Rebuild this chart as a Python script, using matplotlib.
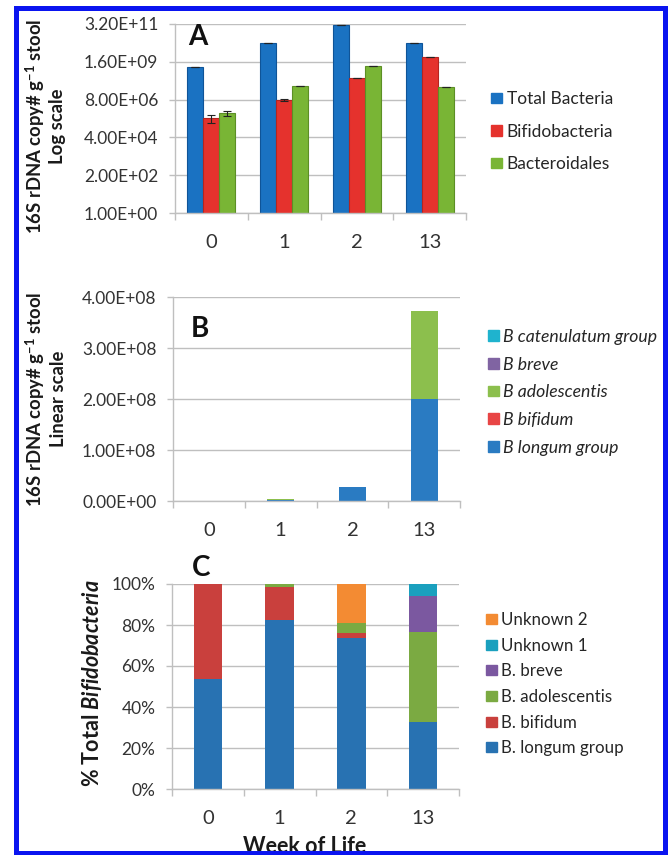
import matplotlib
matplotlib.use("Agg")
import matplotlib.pyplot as plt
from matplotlib.patches import Patch, Rectangle
from matplotlib.ticker import FixedLocator, PercentFormatter, FuncFormatter
import numpy as np

plt.rcParams['font.family'] = ['Lato', 'DejaVu Sans']
plt.rcParams['mathtext.fontset'] = 'custom'
plt.rcParams['mathtext.rm'] = 'Lato'
plt.rcParams['mathtext.bf'] = 'Lato:bold'
plt.rcParams['mathtext.it'] = 'Lato:italic'
plt.rcParams['mathtext.bfit'] = 'Lato:bold:italic'

weeks = ["0", "1", "2", "13"]

# Panel A (log scale, copies per g stool)
total_bacteria = [7.6e8, 2.2e10, 2.8e11, 2.2e10]
total_err = [2e7, 8e8, 5e9, 7e8]
bifidobacteria = [6.0e5, 7.6e6, 1.6e8, 3.2e9]
bifido_err = [3e5, 1e6, 5e6, 8e7]
bacteroidales = [1.2e6, 5.4e7, 9.0e8, 4.7e7]
bactero_err = [4e5, 1e6, 2e7, 1e6]
a_names = ["Total Bacteria", "Bifidobacteria", "Bacteroidales"]
a_ticks = [1, 200, 4e4, 8e6, 1.6e9, 3.2e11]

# Panel B (linear scale, stacked)
b_longum = [0.0, 2.4e6, 2.7e7, 2.0e8]
b_bifidum = [0.0, 0.5e6, 0.4e6, 0.0]
b_adolescentis = [0.0, 0.1e6, 0.6e6, 1.73e8]
b_breve = [0.0, 0.0, 0.0, 0.0]
b_catenulatum = [0.0, 0.3e6, 0.0, 0.0]
b_names = ["B longum group", "B bifidum", "B adolescentis", "B breve", "B catenulatum group"]
b_ticks = [0, 1e8, 2e8, 3e8, 4e8]

# Panel C (% of total Bifidobacteria)
c_longum = [53.5, 82.5, 73.5, 32.7]
c_bifidum = [46.5, 16.0, 2.5, 0.0]
c_adolescentis = [0.0, 1.5, 5.0, 44.0]
c_breve = [0.0, 0.0, 0.0, 17.4]
c_unknown1 = [0.0, 0.0, 0.0, 5.9]
c_unknown2 = [0.0, 0.0, 19.0, 0.0]
c_names = ["B. longum group", "B. bifidum", "B. adolescentis", "B. breve", "Unknown 1", "Unknown 2"]

W, H = 668, 855
fig = plt.figure(figsize=(W / 100, H / 100), dpi=100)
fig.patch.set_facecolor('white')

GRID = '#BFBFBF'
TXT = '#333333'


def px_axes(l, t, r, b):
    return fig.add_axes([l / W, 1 - b / H, (r - l) / W, (b - t) / H])


def style(ax):
    for s in ['top', 'right']:
        ax.spines[s].set_visible(False)
    for s in ['left', 'bottom']:
        ax.spines[s].set_color(GRID)
        ax.spines[s].set_linewidth(1.0)
    ax.set_axisbelow(True)
    ax.yaxis.grid(True, color=GRID, linewidth=1.0)
    ax.set_xlim(-0.5, len(weeks) - 0.5)
    ax.xaxis.set_major_locator(FixedLocator(np.arange(-0.5, len(weeks), 1.0)))
    ax.xaxis.set_major_formatter(plt.NullFormatter())
    ax.xaxis.set_minor_locator(FixedLocator(np.arange(len(weeks))))
    ax.set_xticklabels(weeks, minor=True)
    ax.tick_params(axis='x', which='major', length=5, color=GRID, width=1)
    ax.tick_params(axis='x', which='minor', length=0, pad=15, labelsize=14.5, labelcolor=TXT)
    ax.tick_params(axis='y', length=4, color=GRID, width=1, pad=8, labelsize=12.5, labelcolor=TXT)


x = np.arange(len(weeks))
fmtE = FuncFormatter(lambda v, p: '{:.2E}'.format(v))

# ---------- Panel A ----------
axA = px_axes(175, 24, 466, 213)
style(axA)
axA.set_yscale('log', base=200)
axA.set_ylim(1, 3.2e11)
axA.yaxis.set_major_locator(FixedLocator(a_ticks))
axA.yaxis.set_minor_locator(FixedLocator([]))
axA.yaxis.set_major_formatter(fmtE)
colsA = ['#1A72C2', '#E5322D', '#79B535']
edgA = ['#0F5498', '#B52420', '#5C8F25']
bw = 0.22
for i, (vals, err, c, e) in enumerate(zip([total_bacteria, bifidobacteria, bacteroidales],
                                          [total_err, bifido_err, bactero_err], colsA, edgA)):
    axA.bar(x + (i - 1) * bw, vals, width=bw, color=c, edgecolor=e, linewidth=0.8,
            yerr=err,
            error_kw=dict(ecolor='#222222', elinewidth=0.8, capsize=3, capthick=0.8),
            label=a_names[i], zorder=2)
handlesA = [Patch(color=c) for c in colsA]
fig.legend(handlesA, a_names, loc='upper left', bbox_to_anchor=(491 / W, 1 - 91 / H),
           frameon=False, fontsize=12.5, handlelength=0.65, handleheight=0.55,
           handletextpad=0.25, labelspacing=0.96, borderpad=0, borderaxespad=0,
           labelcolor='#262626')

# ---------- Panel B ----------
axB = px_axes(173, 297, 460, 501)
style(axB)
axB.set_ylim(0, 4e8)
axB.yaxis.set_major_locator(FixedLocator(b_ticks))
axB.yaxis.set_major_formatter(fmtE)
colsB = ['#2A7BC2', '#E84545', '#8CBF4D', '#8064A2', '#1FB3CE']
bottom = np.zeros(len(weeks))
for vals, c, n in zip([b_longum, b_bifidum, b_adolescentis, b_breve, b_catenulatum], colsB, b_names):
    axB.bar(x, vals, width=0.375, bottom=bottom, color=c, label=n, zorder=2)
    bottom += np.array(vals)
handlesB = [Patch(color=c) for c in colsB][::-1]
fig.legend(handlesB, b_names[::-1], loc='upper left', bbox_to_anchor=(488 / W, 1 - 329 / H),
           frameon=False, handlelength=0.62, handleheight=0.55,
           handletextpad=0.25, labelspacing=0.66, borderpad=0, borderaxespad=0,
           prop=dict(style='italic', size=12.7), labelcolor='#262626')

# ---------- Panel C ----------
axC = px_axes(172, 584, 459, 789)
style(axC)
axC.set_ylim(0, 100)
axC.yaxis.set_major_locator(FixedLocator([0, 20, 40, 60, 80, 100]))
axC.yaxis.set_major_formatter(PercentFormatter(decimals=0))
colsC = ['#2872B2', '#C9403D', '#7BAA42', '#7B58A0', '#1AA0BE', '#F38B33']
bottom = np.zeros(len(weeks))
for vals, c, n in zip([c_longum, c_bifidum, c_adolescentis, c_breve, c_unknown1, c_unknown2], colsC, c_names):
    axC.bar(x, vals, width=0.4, bottom=bottom, color=c, label=n, zorder=2)
    bottom += np.array(vals)
handlesC = [Patch(color=c) for c in colsC][::-1]
fig.legend(handlesC, c_names[::-1], loc='upper left', bbox_to_anchor=(486 / W, 1 - 612 / H),
           frameon=False, fontsize=12.2, handlelength=0.62, handleheight=0.55,
           handletextpad=0.25, labelspacing=0.57, borderpad=0, borderaxespad=0,
           labelcolor='#262626')

# ---------- Labels ----------
ylab1 = r'16S rDNA copy# g$^{\mathbf{-1}}$ stool'
for yc, second in [(126, 'Log scale'), (399, 'Linear scale')]:
    fig.text(35 / W, 1 - yc / H, ylab1, rotation=90, ha='center', va='center',
             fontsize=13.3, fontweight='bold', color='#1a1a1a')
    fig.text(58 / W, 1 - yc / H, second, rotation=90, ha='center', va='center',
             fontsize=13.3, fontweight='bold', color='#1a1a1a')
fig.text(92 / W, 1 - 683 / H, r'% Total $\mathbfit{Bifidobacteria}$', rotation=90,
         ha='center', va='center', fontsize=15.5, fontweight='bold', color='#1a1a1a')
fig.text(305 / W, 1 - 846 / H, 'Week of Life', ha='center', va='center',
         fontsize=15.5, fontweight='bold', color='#1a1a1a')

for lab, xc, yc in [('A', 198, 37), ('B', 200, 329), ('C', 201, 568)]:
    fig.text(xc / W, 1 - yc / H, lab, ha='center', va='center', fontsize=20,
             fontweight='bold', color='#111111')

# outer blue frame
fig.patches.append(Rectangle((15.5 / W, 1 - 853 / H), 649 / W, 844.5 / H,
                             transform=fig.transFigure, fill=False,
                             edgecolor='#0A14F0', linewidth=3.6, zorder=10))

fig.savefig('out.png', dpi=100, facecolor='white')
